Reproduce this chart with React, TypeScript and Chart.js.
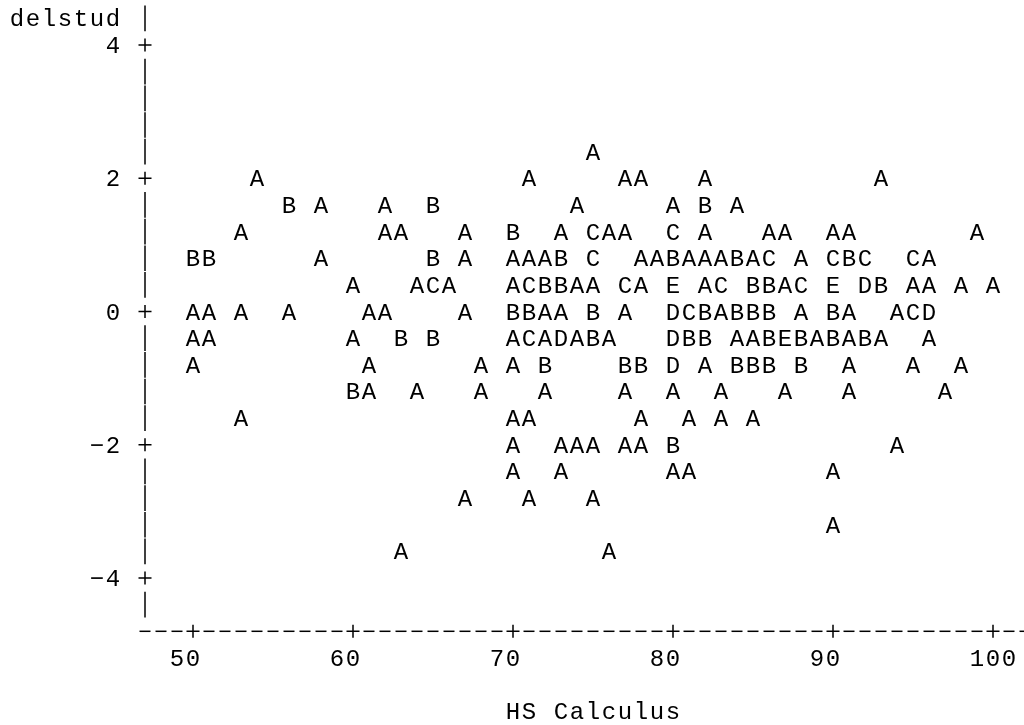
import React, { useEffect, useRef } from "react";
import { Chart, registerables } from "chart.js";

Chart.register(...registerables);

// ---- Data (line-printer plot: symbol letter = number of observations, A=1, B=2, ...) ----
const yAxisTitle = "delstud";
const xAxisTitle = "HS Calculus";
const xTicks = [50, 60, 70, 80, 90, 100];
const yTicks = [4, 2, 0, -2, -4];

// y level of each printed row
const rowY = [2.4, 2.0, 1.6, 1.2, 0.8, 0.4, 0.0, -0.4, -0.8, -1.2, -1.6, -2.0, -2.4, -2.8, -3.2, -3.6];

// HS Calculus value of each symbol in the row
const rowX = [
  [75],
  [54, 71, 77, 78, 82, 93],
  [56, 58, 62, 65, 74, 80, 82, 84],
  [53, 62, 63, 67, 70, 73, 75, 76, 77, 80, 82, 86, 87, 90, 91, 99],
  [50, 51, 58, 65, 67, 70, 71, 72, 73, 75, 78, 79, 80, 81, 82, 83, 84, 85, 86, 88, 90, 91, 92, 95, 96],
  [60, 64, 65, 66, 70, 71, 72, 73, 74, 75, 77, 78, 80, 82, 83, 85, 86, 87, 88, 90, 92, 93, 95, 96, 98, 100],
  [50, 51, 53, 56, 61, 62, 67, 70, 71, 72, 73, 75, 77, 80, 81, 82, 83, 84, 85, 86, 88, 90, 91, 94, 95, 96],
  [50, 51, 60, 63, 65, 70, 71, 72, 73, 74, 75, 76, 80, 81, 82, 84, 85, 86, 87, 88, 89, 90, 91, 92, 93, 96],
  [50, 61, 68, 70, 72, 77, 78, 80, 82, 84, 85, 86, 88, 91, 95, 98],
  [60, 61, 64, 68, 72, 77, 80, 83, 87, 91, 97],
  [53, 70, 71, 78, 81, 83, 85],
  [70, 73, 74, 75, 77, 78, 80, 94],
  [70, 73, 80, 81, 90],
  [67, 71, 75],
  [90],
  [63, 76],
];

// plotting symbol of each point in the row
const rowSymbols = [
  "A",
  "AAAAAA",
  "BAABAABA",
  "AAAABACAACAAAAAA",
  "BBABAAAABCAABAAABACACBCCA",
  "AACAACBBAACAEACBBACEDBAAAA",
  "AAAAAAABBAABADCBABBBABAACD",
  "AAABBACADABADBBAABEBABABAA",
  "AAAABBBDABBBBAAA",
  "BAAAAAAAAAA",
  "AAAAAAA",
  "AAAAAABA",
  "AAAAA",
  "AAA",
  "A",
  "AA",
];

// ---- Layout constants ----
const FONT_FAMILY = '"Liberation Mono", "DejaVu Sans Mono", monospace';
const FONT_SIZE = 24;
const COL_W = 16;
const AXIS_COL = 47;
const AXIS_END_COL = 102;
const ROW_STEP = 0.4;

const printerPlugin = {
  id: "linePrinter",
  afterDatasetsDraw(chart: any) {
    const ctx: CanvasRenderingContext2D = chart.ctx;
    const xs = chart.scales.x;
    const ys = chart.scales.y;
    const px = (c: number) => xs.getPixelForValue(c);
    const py = (v: number) => ys.getPixelForValue(v);
    const rowH = Math.abs(py(0) - py(ROW_STEP));

    ctx.save();
    ctx.font = `${FONT_SIZE}px ${FONT_FAMILY}`;
    ctx.fillStyle = "#000";
    ctx.strokeStyle = "#000";
    ctx.textBaseline = "alphabetic";
    const capH = ctx.measureText("A").actualBoundingBoxAscent || FONT_SIZE * 0.66;
    const adv = ctx.measureText("M").width;
    const base = (y: number) => y + capH / 2;

    // plotted symbols
    ctx.textAlign = "center";
    chart.data.datasets.forEach((ds: any, i: number) => {
      const meta = chart.getDatasetMeta(i);
      meta.data.forEach((el: any) => {
        ctx.fillText(ds.label, el.x, base(el.y));
      });
    });

    // grid text helper: string starting at column startCol
    const gridText = (s: string, startCol: number, yPix: number) => {
      ctx.textAlign = "left";
      try {
        (ctx as any).letterSpacing = `${COL_W - adv}px`;
      } catch (e) {}
      ctx.fillText(s, px(startCol) - adv / 2, base(yPix));
      try {
        (ctx as any).letterSpacing = "0px";
      } catch (e) {}
    };

    const isTick = (v: number, ticks: number[]) => ticks.some((t) => Math.abs(t - v) < 1e-6);

    ctx.lineWidth = 1.5;
    const plus = (x: number, y: number) => {
      ctx.beginPath();
      ctx.moveTo(x - 6.5, y);
      ctx.lineTo(x + 6.5, y);
      ctx.moveTo(x, y - 6.5);
      ctx.lineTo(x, y + 6.5);
      ctx.stroke();
    };

    // vertical axis
    const ax = px(AXIS_COL);
    const nRows = Math.round((ys.max - ys.min) / ROW_STEP);
    for (let k = 0; k < nRows; k++) {
      const v = ys.max - k * ROW_STEP;
      const y = py(v);
      if (isTick(v, yTicks)) {
        plus(ax, y);
      } else {
        ctx.beginPath();
        ctx.moveTo(ax, y - rowH / 2 + 0.5);
        ctx.lineTo(ax, y + rowH / 2 - 0.5);
        ctx.stroke();
      }
    }

    // horizontal axis
    const axisY = py(ys.min);
    for (let c = AXIS_COL; c <= AXIS_END_COL; c++) {
      const x = px(c);
      if (isTick(c, xTicks)) {
        plus(x, axisY);
      } else {
        ctx.beginPath();
        ctx.moveTo(x - 5.5, axisY);
        ctx.lineTo(x + 5.5, axisY);
        ctx.stroke();
      }
    }

    // y tick labels, right-aligned two columns left of the axis
    const labelEndCol = AXIS_COL - 2;
    yTicks.forEach((t) => {
      const s = t < 0 ? "\u2212" + Math.abs(t) : String(t);
      gridText(s, labelEndCol - (s.length - 1), py(t));
    });

    // y axis title
    gridText(yAxisTitle, labelEndCol - (yAxisTitle.length - 1), py(ys.max));

    // x tick labels
    const xLabelY = py(ys.min - ROW_STEP);
    xTicks.forEach((t) => {
      const s = String(t);
      gridText(s, t - Math.floor(s.length / 2), xLabelY);
    });

    // x axis title
    const centerCol = (AXIS_COL + AXIS_END_COL) / 2;
    const start = Math.ceil(centerCol - (xAxisTitle.length - 1) / 2);
    gridText(xAxisTitle, start, py(ys.min - 3 * ROW_STEP));

    ctx.restore();
  },
};

export default function App() {
  const canvasRef = useRef<HTMLCanvasElement | null>(null);

  useEffect(() => {
    const canvas = canvasRef.current;
    if (!canvas) return;

    const symbols = Array.from(new Set(rowSymbols.join("").split(""))).sort();
    const datasets = symbols.map((s) => ({
      label: s,
      data: [] as { x: number; y: number }[],
      pointRadius: 0,
      pointHoverRadius: 0,
      showLine: false,
    }));
    rowY.forEach((y, r) => {
      rowX[r].forEach((x, i) => {
        const s = rowSymbols[r][i];
        const ds = datasets.find((d) => d.label === s);
        if (ds) ds.data.push({ x, y });
      });
    });

    const chartWidth = 1024;
    const left = 145;
    const chart = new Chart(canvas, {
      type: "scatter",
      data: { datasets },
      options: {
        animation: false,
        responsive: false,
        events: [],
        layout: { padding: { left, right: 0, top: 18.4, bottom: 93.7 } },
        plugins: { legend: { display: false }, tooltip: { enabled: false } },
        scales: {
          x: { type: "linear", min: AXIS_COL, max: AXIS_COL + (chartWidth - left) / COL_W, display: false },
          y: { type: "linear", min: -4.8, max: 4.4, display: false },
        },
      },
      plugins: [printerPlugin],
    } as any);

    return () => chart.destroy();
  }, []);

  return (
    <div style={{ position: "fixed", left: 0, top: 0, width: 1024, height: 725, background: "#fff" }}>
      <canvas ref={canvasRef} width={1024} height={725} style={{ width: 1024, height: 725, display: "block" }} />
    </div>
  );
}
